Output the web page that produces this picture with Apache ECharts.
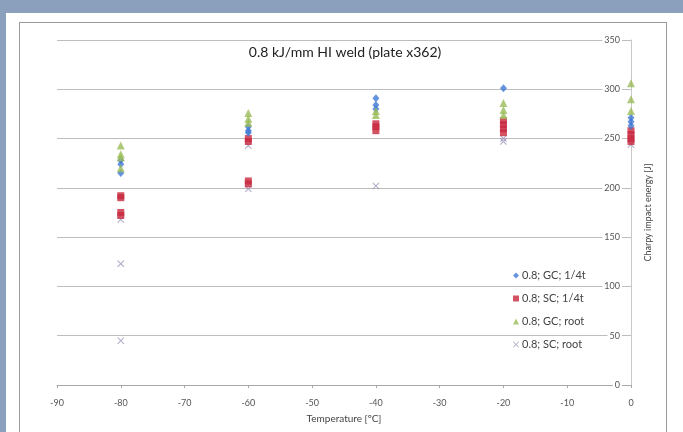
<!DOCTYPE html>
<html>
<head>
<meta charset="utf-8">
<script src="https://cdn.jsdelivr.net/npm/echarts@6/dist/echarts.min.js"></script>
<style>
html,body{margin:0;padding:0;width:683px;height:432px;overflow:hidden;background:#8aa0bc;}
#white{position:absolute;left:6px;top:13px;width:677px;height:419px;background:#fff;}
#frame{position:absolute;left:19px;top:22px;width:648px;height:420px;border:1px solid #9a9a9a;box-sizing:border-box;}
#chart{position:absolute;left:0;top:0;width:683px;height:432px;}
</style>
</head>
<body>
<div id="white"></div>
<div id="frame"></div>
<div id="chart"></div>
<script>
const title = '0.8 kJ/mm HI weld (plate x362)';
const xName = 'Temperature [ºC]';
const yName = 'Charpy impact energy [J]';
const seriesNames = ['0.8; GC; 1/4t', '0.8; SC; 1/4t', '0.8; GC; root', '0.8; SC; root'];

// [temperature, energy]
const gcQuarter = [[-80,228],[-80,224],[-80,215],[-60,262],[-60,258],[-60,256],[-40,291],[-40,284],[-40,280],[-20,301],[0,271],[0,267],[0,263]];
const scQuarter = [[-80,192],[-80,190],[-80,175],[-80,172],[-60,250],[-60,247],[-60,207],[-60,204],[-40,265],[-40,262],[-40,258],[-20,268],[-20,264],[-20,260],[-20,256],[0,258],[0,254],[0,250],[0,247]];
const gcRoot = [[-80,243],[-80,234],[-80,231],[-80,220],[-60,276],[-60,270],[-60,266],[-40,278],[-40,274],[-20,286],[-20,279],[-20,274],[0,306],[0,290],[0,278]];
const scRoot = [[-80,168],[-80,123],[-80,45],[-60,199],[-60,243],[-40,202],[-20,250],[-20,247],[0,244]];

const xMin = -90, xMax = 0, xStep = 10;
const yMin = 0, yMax = 350, yStep = 50;

const font = 'Lato, "Open Sans", sans-serif';
const xPath = 'path://M0,1L1,0L5,4L9,0L10,1L6,5L10,9L9,10L5,6L1,10L0,9L4,5Z';

const chart = echarts.init(document.getElementById('chart'), null, {renderer:'canvas'});
chart.setOption({
  animation:false,
  backgroundColor:'transparent',
  textStyle:{fontFamily:font},
  title:{text:title,left:340,textAlign:'center',top:40,textStyle:{fontSize:14,fontWeight:'normal',color:'#222',fontFamily:font}},
  grid:{left:57,right:52,top:40,bottom:47,containLabel:false},
  legend:{
    orient:'vertical',left:508,top:265,itemGap:12,itemWidth:6,itemHeight:6,
    textStyle:{fontSize:11,color:'#444',fontFamily:font,padding:[0,0,0,-2]},
    data:seriesNames.map(n=>({name:n}))
  },
  xAxis:{
    type:'value',min:xMin,max:xMax,interval:xStep,
    name:xName,nameLocation:'middle',nameGap:29,
    nameTextStyle:{fontSize:10,color:'#444',fontFamily:font},
    axisLine:{show:true,onZero:false,lineStyle:{color:'#a8a8a8'}},
    axisTick:{show:true,length:3,lineStyle:{color:'#a8a8a8'}},
    axisLabel:{fontSize:9,color:'#555',margin:14,fontFamily:font,showMinLabel:true,showMaxLabel:true},
    splitLine:{show:false}
  },
  yAxis:{
    type:'value',min:yMin,max:yMax,interval:yStep,position:'right',
    name:yName,nameLocation:'middle',nameGap:13,nameRotate:90,
    nameTextStyle:{fontSize:9,color:'#444',fontFamily:font},
    axisLine:{show:true,lineStyle:{color:'#c8c8c8'}},
    axisTick:{show:false},
    axisLabel:{inside:true,fontSize:9,color:'#555',margin:9,fontFamily:font,backgroundColor:'#fff',padding:[0,2]},
    splitLine:{show:true,lineStyle:{color:'#bdbdbd',width:1}}
  },
  series:[
    {name:seriesNames[0],type:'scatter',data:gcQuarter,symbol:'diamond',symbolSize:[7,8],itemStyle:{color:'#3f78d4'},z:3},
    {name:seriesNames[1],type:'scatter',data:scQuarter,symbol:'rect',symbolSize:7,itemStyle:{color:'#c8283f'},z:2},
    {name:seriesNames[2],type:'scatter',data:gcRoot,symbol:'triangle',symbolSize:8,itemStyle:{color:'#9bbb59'},z:4},
    {name:seriesNames[3],type:'scatter',data:scRoot,symbol:xPath,symbolSize:7,itemStyle:{color:'#9a90b6'},z:1}
  ]
});
</script>
</body>
</html>
